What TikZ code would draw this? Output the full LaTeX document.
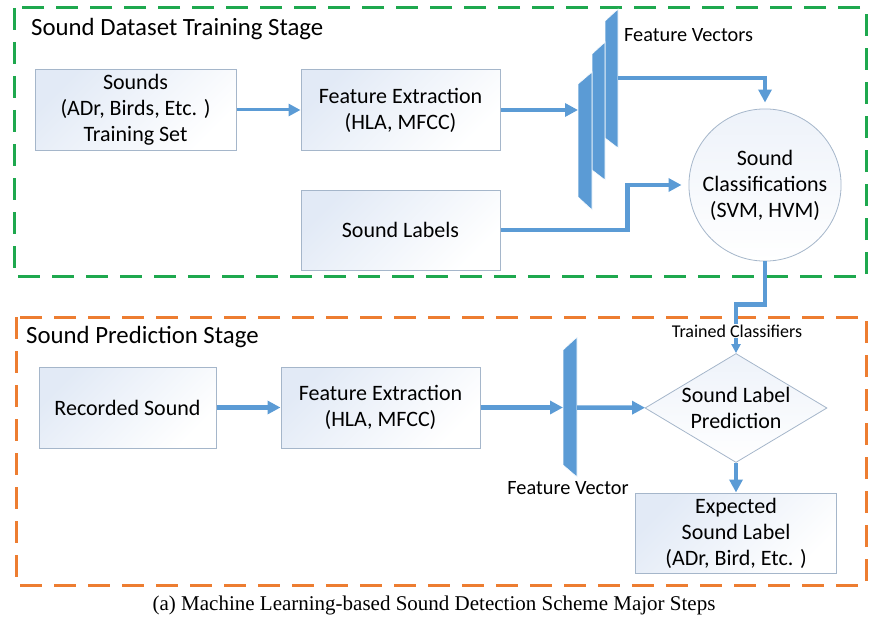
\documentclass[tikz,border=0pt]{standalone}
\usepackage{fontspec}
\setmainfont{Carlito}
\newfontfamily\capfont{Liberation Serif}
\usetikzlibrary{arrows.meta,shapes.geometric}

\definecolor{flowblue}{RGB}{91,155,213}
\definecolor{boxline}{RGB}{165,182,202}
\definecolor{boxblue}{RGB}{226,234,246}
\definecolor{traingreen}{RGB}{30,168,78}
\definecolor{predorange}{RGB}{237,125,49}

\tikzset{
  stepbox/.style={draw=boxline, line width=1pt, top color=boxblue, bottom color=white,
    shading angle=45, align=center, font=\fontsize{22}{26}\selectfont,
    minimum width=200pt, minimum height=80pt},
  flow/.style={draw=flowblue, line width=4.5pt, -{Triangle[length=13pt,width=13pt]}},
  thinflow/.style={draw=flowblue, line width=3pt, -{Triangle[length=12pt,width=12pt]}},
  stage/.style={line width=3pt, dash pattern=on 22pt off 12pt},
  vecplane/.style={fill=flowblue, draw=white, line width=0.6pt},
  smalltext/.style={font=\fontsize{20.3}{23}\selectfont, inner sep=1pt},
}

\begin{document}
\begin{tikzpicture}[x=1pt, y=-1pt]
        \useasboundingbox (0,0) rectangle (869,623);

        \draw [stage, traingreen] (14,8) rectangle (866,276);
        \draw [stage, predorange] (16,317) rectangle (866,585);
        \node [anchor=west, inner sep=0pt, font=\fontsize{24.8}{28}\selectfont] (traintitle) at (31,29) {Sound Dataset Training Stage};
        \node [anchor=west, inner sep=0pt, font=\fontsize{24.8}{28}\selectfont] (predtitle) at (26,337) {Sound Prediction Stage};

        \node [stepbox, minimum width=201pt] (sounds) at (135.5,110) {Sounds\\(ADr, Birds, Etc. )\\Training Set};
        \node [stepbox, minimum width=199pt] (fe1) at (400.5,110) {Feature Extraction\\(HLA, MFCC)};
        \node [stepbox, minimum width=199pt] (labels) at (400.5,230) {Sound Labels};
        \node [stepbox, circle, minimum size=140pt, line width=0.8pt, top color=boxblue!60] (cls) at (765,185) {Sound\\Classifications\\(SVM, HVM)};

        \node [stepbox, minimum width=177pt, minimum height=81pt] (rec) at (127.5,407.5) {Recorded Sound};
        \node [stepbox, minimum width=199pt, minimum height=81pt] (fe2) at (380.5,407.5) {Feature Extraction\\(HLA, MFCC)};
        \node [stepbox, diamond, aspect=1.67, inner sep=-1pt, minimum width=182pt, minimum height=109pt, line width=0.8pt, top color=boxblue!60] (pred) at (736,408) {Sound Label\\Prediction};
        \node [stepbox, minimum width=201pt] (expect) at (736,533) {Expected\\Sound Label\\(ADr, Bird, Etc. )};

        \filldraw [vecplane] (605,21) -- (618,9) -- (618,148) -- (605,138) -- cycle;
        \filldraw [vecplane] (592,54) -- (605,42) -- (605,180) -- (592,170) -- cycle;
        \filldraw [vecplane] (578,84) -- (592,72) -- (592,210) -- (578,197) -- cycle;
        \filldraw [vecplane] (563,350) -- (577,337) -- (577,477) -- (563,465) -- cycle;
        \coordinate (fvin) at (578,110);
        \coordinate (fvout) at (618,78);
        \coordinate (fvlowin) at (563,407.5);
        \coordinate (fvlowout) at (577,407.5);

        \node [smalltext, anchor=west] (fvlabel) at (623,35) {Feature Vectors};
        \node [smalltext] (fvlowlabel) at (568,488) {Feature Vector};

        \draw [thinflow] (sounds) -- (fe1);
        \draw [flow] (fe1) -- (fvin);
        \draw [flow, shorten >=6pt] (fvout) -| (cls);
        \draw [flow, shorten >=7pt] (labels.east) -- ++(127,0) |- (cls);
        \draw [flow, -{Triangle[length=9pt,width=9pt]}] (cls.south) -- ++(0,43) -| (pred.north);
        \node [smalltext, fill=white, font=\fontsize{18}{20}\selectfont] (trained) at (737,331) {Trained Classifiers};
        \draw [flow] (pred) -- (expect);

        \draw [flow] (rec) -- (fe2);
        \draw [flow] (fe2) -- (fvlowin);
        \draw [flow] (fvlowout) -- (pred);

        \node [font=\capfont\fontsize{21}{24}\selectfont] (caption) at (434,605) {(a) Machine Learning-based Sound Detection Scheme Major Steps};
      \end{tikzpicture}
\end{document}
